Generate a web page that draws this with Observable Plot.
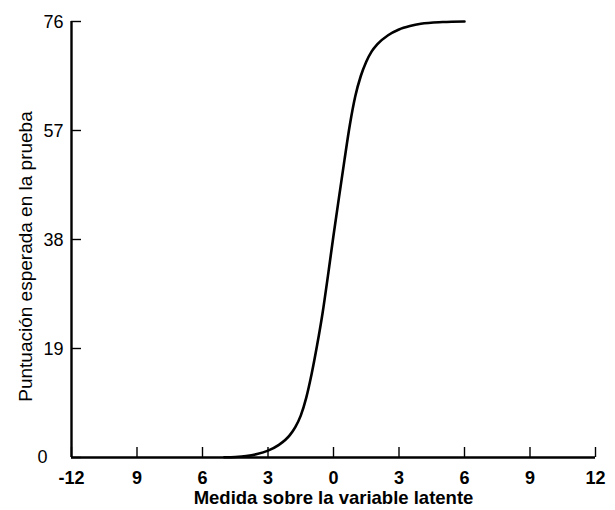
<!DOCTYPE html>
<html><head><meta charset="utf-8">
<script src="https://cdn.jsdelivr.net/npm/d3@7"></script>
<script src="https://cdn.jsdelivr.net/npm/@observablehq/plot@0.6"></script>
<style>body{margin:0;background:#fff}</style>
</head><body><div id="chart"></div>
<script>
// Curve values
const theta = [-5, -4.5, -4, -3.5, -3, -2.5, -2, -1.75, -1.5, -1.25, -1, -0.75, -0.5, -0.25, 0, 0.25, 0.5, 0.75, 1, 1.25, 1.5, 1.75, 2, 2.5, 3, 3.5, 4, 5, 6];
const score = [0.05, 0.1, 0.25, 0.6, 1.2, 2.2, 3.9, 5.3, 7.3, 10.4, 14.6, 19.6, 25.2, 31.8, 38.7, 45.3, 51.8, 58.0, 63.0, 66.5, 69.0, 70.8, 72.0, 73.6, 74.6, 75.2, 75.6, 75.9, 76];
// Axis ticks and labels
const xTicks = [-12, -9, -6, -3, 0, 3, 6, 9, 12];
const xTickLabels = ["-12", "9", "6", "3", "0", "3", "6", "9", "12"];
const yTicks = [0, 19, 38, 57, 76];
const xTitle = "Medida sobre la variable latente";
const yTitle = "Puntuación esperada en la prueba";

const data = theta.map((t, i) => ({t, s: score[i]}));
const labelOf = v => xTickLabels[xTicks.indexOf(v)];

const plot = Plot.plot({
  width: 615, height: 510,
  marginLeft: 71, marginRight: 20, marginTop: 21, marginBottom: 53,
  x: {domain: [-12, 12]},
  y: {domain: [0, 76]},
  style: {fontFamily: "'Liberation Sans', Arial, sans-serif", fontSize: "18px", color: "#000", background: "#fff"},
  marks: [
    Plot.axisX(xTicks, {tickSize: -10, strokeWidth: 1.4, tickFormat: () => "", label: null}),
    Plot.axisX(xTicks, {tickSize: 0, tickPadding: 14, tickFormat: labelOf, fontWeight: "bold", fontSize: 18, label: null}),
    Plot.axisY(yTicks, {tickSize: -10, strokeWidth: 1.4, tickFormat: () => "", label: null}),
    Plot.axisY(yTicks.filter(d => d !== 0), {tickSize: 0, tickPadding: 8, dy: 1, fontSize: 18, label: null}),
    Plot.axisY(yTicks.filter(d => d === 0), {tickSize: 0, tickPadding: 24, fontSize: 18, label: null}),
    Plot.ruleX([-12], {strokeWidth: 2.4}),
    Plot.ruleY([0], {strokeWidth: 2.4}),
    Plot.line(data, {x: "t", y: "s", curve: "monotone-x", strokeWidth: 2.6}),
    Plot.text([xTitle], {frameAnchor: "bottom", dy: 41, lineAnchor: "middle", textAnchor: "middle", fontWeight: "bold", fontSize: 18.5, text: d => d}),
    Plot.text([yTitle], {frameAnchor: "left", dx: -46, dy: 17, rotate: -90, lineAnchor: "middle", textAnchor: "middle", fontSize: 19, text: d => d})
  ]
});
document.getElementById("chart").append(plot);
</script>
</body></html>
